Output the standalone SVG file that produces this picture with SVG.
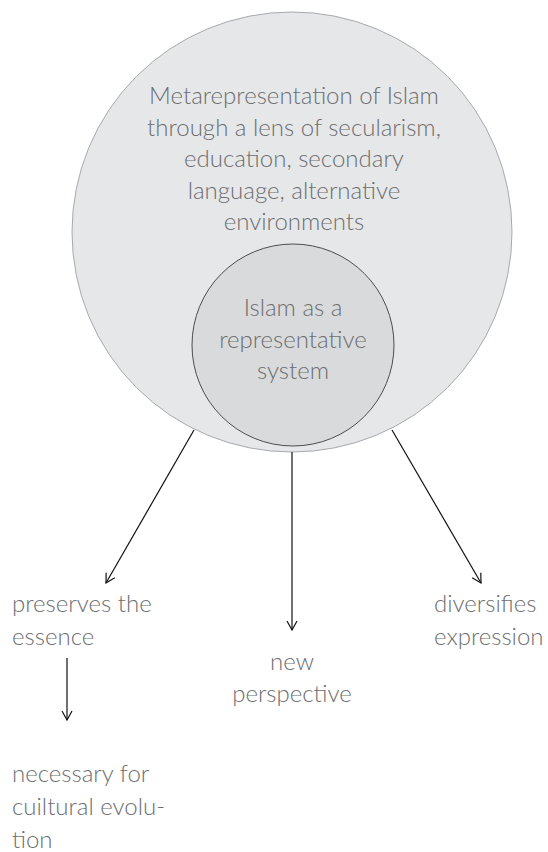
<svg xmlns="http://www.w3.org/2000/svg" width="548" height="852" viewBox="0 0 548 852">
<style>
.t{font-family:Lato,"Open Sans","Liberation Sans",sans-serif;font-weight:300;font-size:24px;fill:#6d6e71}
.c{stroke:#111;stroke-width:1.2;fill:none}
</style>
<defs>
<marker id="ah" viewBox="0 0 12 12" refX="10" refY="6" markerWidth="12" markerHeight="12" markerUnits="userSpaceOnUse" orient="auto">
<path d="M1,1 L10,6 L1,11" fill="none" stroke="#111" stroke-width="1.2"/>
</marker>
</defs>
<rect width="548" height="852" fill="#fff"/>
<g id="outer">
<circle cx="292" cy="232" r="220" fill="#e6e7e8" stroke="#a7a9ac" stroke-width="1"/>
<text class="t" text-anchor="middle"><tspan x="294" y="104">Metarepresentation of Islam</tspan><tspan x="294" y="136">through a lens of secularism,</tspan><tspan x="294" y="167">education, secondary</tspan><tspan x="294" y="199">language, alternative</tspan><tspan x="294" y="230">environments</tspan></text>
</g>
<g id="inner">
<circle cx="293" cy="345" r="101" fill="#d9dadb" stroke="#4d4d4f" stroke-width="1"/>
<text class="t" text-anchor="middle"><tspan x="293" y="316">Islam as a</tspan><tspan x="293" y="348">representative</tspan><tspan x="293" y="379">system</tspan></text>
</g>
<g id="n-preserves"><text class="t"><tspan x="12" y="612">preserves the</tspan><tspan x="12" y="645">essence</tspan></text></g>
<g id="n-new"><text class="t" text-anchor="middle"><tspan x="292" y="670">new</tspan><tspan x="292" y="702">perspective</tspan></text></g>
<g id="n-diversifies"><text class="t"><tspan x="434" y="612">diversifies</tspan><tspan x="434" y="645">expression</tspan></text></g>
<g id="n-necessary"><text class="t"><tspan x="12" y="782">necessary for</tspan><tspan x="12" y="815">cuiltural evolu-</tspan><tspan x="12" y="848">tion</tspan></text></g>
<g id="connectors">
<line class="c" x1="194" y1="430" x2="106" y2="583" marker-end="url(#ah)"/>
<line class="c" x1="292" y1="452" x2="292" y2="630" marker-end="url(#ah)"/>
<line class="c" x1="392" y1="430" x2="481" y2="583" marker-end="url(#ah)"/>
<line class="c" x1="67" y1="658" x2="67" y2="720" marker-end="url(#ah)"/>
</g>
</svg>
